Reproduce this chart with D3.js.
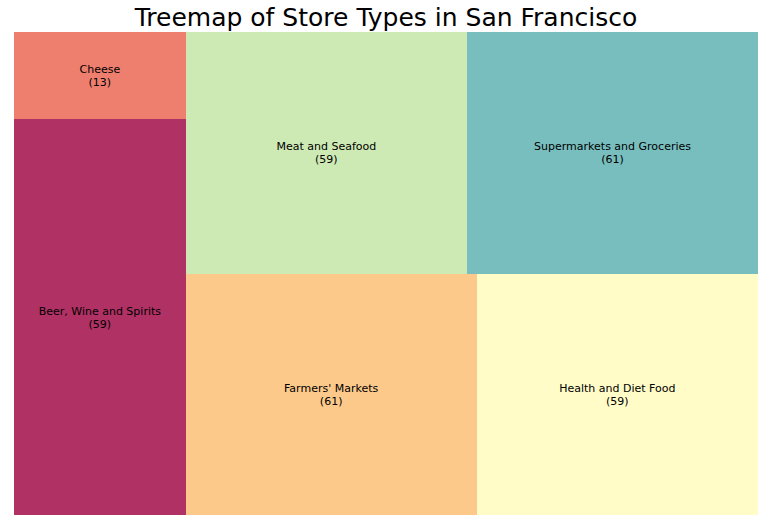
<!DOCTYPE html>
<html>
<head>
<meta charset="utf-8">
<script src="https://cdn.jsdelivr.net/npm/d3@7"></script>
<style>
html,body{margin:0;padding:0;background:#fff;}
svg{display:block;}
</style>
</head>
<body>
<script>
const categories = ["Beer, Wine and Spirits", "Cheese", "Farmers' Markets", "Health and Diet Food", "Meat and Seafood", "Supermarkets and Groceries"];
const counts = [59, 13, 61, 59, 59, 61];
const colors = ["#b03264", "#ee7f6e", "#fdc98b", "#fffcc8", "#cde9b4", "#78bebe"];
const title = "Treemap of Store Types in San Francisco";

const W = 771, H = 528;
const margin = {left: 14, right: 13, top: 32, bottom: 13};

// squarify (same algorithm as python squarify), in normalized 100x100 space, y upward
function layoutrow(sizes, x, y, dx, dy) {
  const area = d3.sum(sizes), width = area / dy; const r = [];
  for (const s of sizes) { r.push({x, y, dx: width, dy: s / width}); y += s / width; }
  return r;
}
function layoutcol(sizes, x, y, dx, dy) {
  const area = d3.sum(sizes), height = area / dx; const r = [];
  for (const s of sizes) { r.push({x, y, dx: s / height, dy: height}); x += s / height; }
  return r;
}
function layout(sizes, x, y, dx, dy) { return dx >= dy ? layoutrow(sizes, x, y, dx, dy) : layoutcol(sizes, x, y, dx, dy); }
function leftover(sizes, x, y, dx, dy) {
  const area = d3.sum(sizes);
  if (dx >= dy) { const w = area / dy; return [x + w, y, dx - w, dy]; }
  const h = area / dx; return [x, y + h, dx, dy - h];
}
function worst(sizes, x, y, dx, dy) {
  return d3.max(layout(sizes, x, y, dx, dy), r => Math.max(r.dx / r.dy, r.dy / r.dx));
}
function squarify(sizes, x, y, dx, dy) {
  if (sizes.length === 0) return [];
  if (sizes.length === 1) return layout(sizes, x, y, dx, dy);
  let i = 1;
  while (i < sizes.length && worst(sizes.slice(0, i), x, y, dx, dy) >= worst(sizes.slice(0, i + 1), x, y, dx, dy)) i++;
  const cur = sizes.slice(0, i), rem = sizes.slice(i);
  const [lx, ly, ldx, ldy] = leftover(cur, x, y, dx, dy);
  return layout(cur, x, y, dx, dy).concat(squarify(rem, lx, ly, ldx, ldy));
}

const total = d3.sum(counts);
const norm = counts.map(v => v * 100 * 100 / total);
const rects = squarify(norm, 0, 0, 100, 100);

const xs = d3.scaleLinear().domain([0, 100]).range([margin.left, W - margin.right]);
const ys = d3.scaleLinear().domain([0, 100]).range([H - margin.bottom, margin.top]);

const svg = d3.select("body").append("svg").attr("width", W).attr("height", H);

const g = svg.selectAll("g.cell").data(rects).join("g").attr("class", "cell");
g.append("rect")
  .attr("x", d => xs(d.x))
  .attr("y", d => ys(d.y + d.dy))
  .attr("width", d => xs(d.x + d.dx) - xs(d.x))
  .attr("height", d => ys(d.y) - ys(d.y + d.dy))
  .attr("fill", (d, i) => colors[i])
  .attr("shape-rendering", "crispEdges");

const txt = g.append("text")
  .attr("x", d => xs(d.x + d.dx / 2))
  .attr("y", d => ys(d.y + d.dy / 2))
  .attr("text-anchor", "middle")
  .attr("font-family", "DejaVu Sans")
  .attr("font-size", "11px")
  .attr("fill", "#000");
txt.append("tspan").attr("x", d => xs(d.x + d.dx / 2)).attr("dy", "-2.3").text((d, i) => categories[i]);
txt.append("tspan").attr("x", d => xs(d.x + d.dx / 2)).attr("dy", "12.8").text((d, i) => "(" + counts[i] + ")");

svg.append("text")
  .attr("x", (margin.left + W - margin.right) / 2)
  .attr("y", 26)
  .attr("text-anchor", "middle")
  .attr("font-family", "DejaVu Sans")
  .attr("font-size", "25px")
  .attr("fill", "#000")
  .text(title);
</script>
</body>
</html>
